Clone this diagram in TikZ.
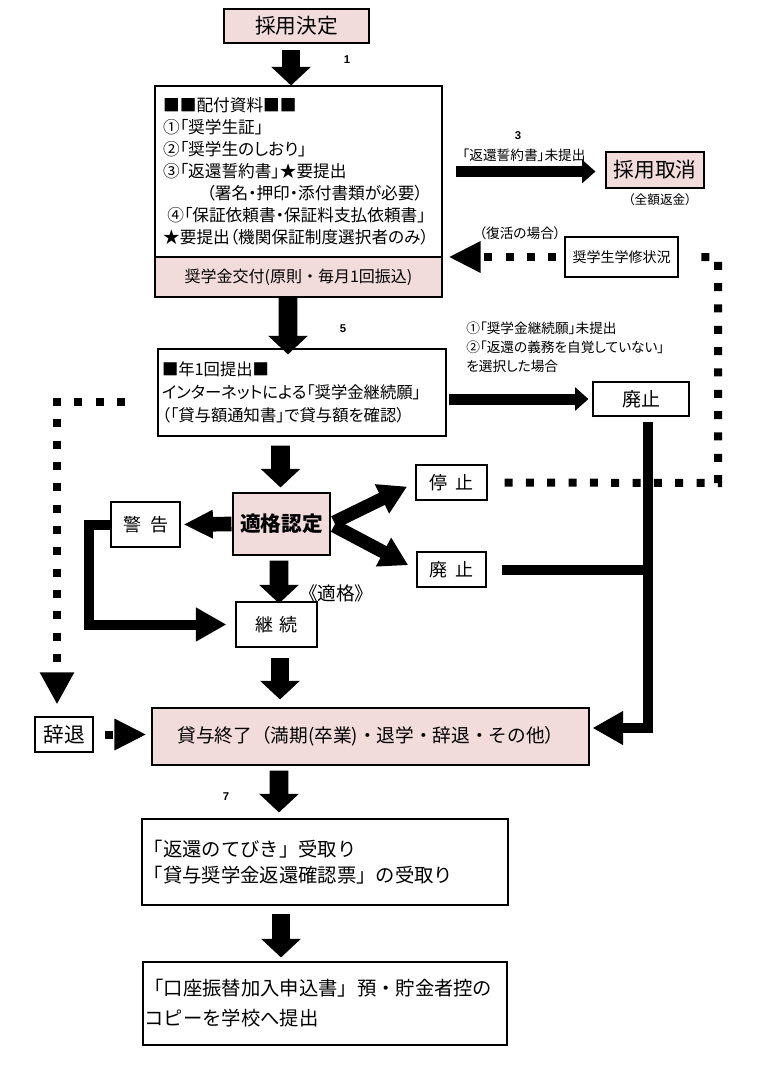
\documentclass[tikz,border=0pt]{standalone}
\usepackage{fontspec}
\setmainfont{Noto Sans CJK JP}
\newfontfamily\pfont[RawFeature=+palt]{Noto Sans CJK JP}
\newfontfamily\numfont{Liberation Sans}
\usetikzlibrary{arrows.meta}
\definecolor{boxpink}{RGB}{242,220,219}
\begin{document}
\begin{tikzpicture}[x=0.75pt,y=-0.75pt,
	box/.style={draw,line width=0.8pt,inner sep=0pt,fill=white},
	pinkbox/.style={box,fill=boxpink},
	fatarrow/.style={line width=14pt,-{Triangle[length=14pt,width=29pt]}},
	thinarrow/.style={line width=8.25pt,-{Triangle[length=10pt,width=17pt]}},
	sidearrow/.style={line width=11pt,-{Triangle[length=22pt,width=20pt]}},
	diagarrow/.style={line width=10pt,-{Triangle[length=21pt,width=23pt]}},
	barline/.style={line width=7.5pt},
	bararrow/.style={barline,-{Triangle[length=23pt,width=24pt]}},
	dotline/.style={line width=6pt,dash pattern=on 6pt off 10pt},
	dotarrow/.style={dotline,-{Triangle[length=24pt,width=22pt]}},
	numlabel/.style={font=\numfont\bfseries\fontsize{8.5}{10}\selectfont,inner sep=0pt},
	note/.style={font=\pfont\fontsize{10.25}{14.25}\selectfont,inner sep=0pt}
]
	\useasboundingbox (0,0) rectangle (770,1068);
	% boxes
	\node[pinkbox,minimum width=108.75pt,minimum height=25.5pt,font=\fontsize{15.5}{18}\selectfont] (adopt) at (296.5,26) {採用決定};
	\node[box,minimum width=215.25pt,minimum height=128.25pt,text width=203pt,align=left,font=\pfont\fontsize{12.5}{16.5}\selectfont] (haifu) at (298.5,171.5) {■■配付資料■■\\①「奨学生証」\\②「奨学生のしおり」\\③「返還誓約書」★要提出\\\hspace*{2.6em}（署名・押印・添付書類が必要）\\\hspace*{.25em}④「保証依頼書・保証料支払依頼書」\\★要提出（機関保証制度選択者のみ）};
	\node[pinkbox,minimum width=215.25pt,minimum height=30pt,font=\fontsize{12}{14}\selectfont] (koufu) at (298.5,277) {奨学金交付(原則・毎月1回振込)};
	\node[pinkbox,minimum width=73.5pt,minimum height=27pt,font=\fontsize{15.5}{18}\selectfont] (cancel) at (655,170) {採用取消};
	\node[box,minimum width=84.75pt,minimum height=30pt,font=\fontsize{10.5}{12}\selectfont] (gakushu) at (621.5,257) {奨学生学修状況};
	\node[box,minimum width=216pt,minimum height=65.25pt,text width=210pt,align=left,font=\pfont\fontsize{12.25}{17.5}\selectfont] (req) at (302,392.5) {■年1回提出■\\インターネットによる「奨学金継続願」\\（「貸与額通知書」で貸与額を確認）};
	\node[box,minimum width=72pt,minimum height=25.5pt,font=\fontsize{14.25}{16}\selectfont] (haishi1) at (641,399) {廃止};
	\node[box,minimum width=53.25pt,minimum height=26.25pt,font=\fontsize{13.5}{16}\selectfont] (teishi) at (451.5,482.5) {停\hspace{.4em}止};
	\node[box,minimum width=51.75pt,minimum height=26.25pt,font=\fontsize{13.5}{16}\selectfont] (haishi2) at (451.5,569.5) {廃\hspace{.4em}止};
	\node[pinkbox,minimum width=72.75pt,minimum height=46.5pt,font=\fontsize{15.5}{18}\selectfont\bfseries] (tekikaku) at (281.5,524) {適格認定};
	\node[box,minimum width=51.75pt,minimum height=33.75pt,font=\fontsize{13.5}{16}\selectfont] (keikoku) at (145.5,524.5) {警\hspace{.5em}告};
	\node[box,minimum width=60.75pt,minimum height=33.75pt,font=\fontsize{13.5}{16}\selectfont] (keizoku) at (276.5,624.5) {継\hspace{.3em}続};
	\node[box,minimum width=43.5pt,minimum height=26.25pt,font=\fontsize{15.5}{18}\selectfont] (jitai) at (64,734.5) {辞退};
	\node[pinkbox,minimum width=327.75pt,minimum height=42.75pt,font=\fontsize{14}{16}\selectfont] (finish) at (370.5,736.5) {貸与終了（満期(卒業)・退学・辞退・その他）};
	\node[box,minimum width=274.5pt,minimum height=64.5pt,text width=272pt,align=left,font=\fontsize{14.5}{20}\selectfont] (tebiki) at (325,862) {「返還のてびき」受取り\\「貸与奨学金返還確認票」の受取り};
	\node[box,minimum width=273pt,minimum height=62.25pt,text width=271pt,align=left,font=\fontsize{14.5}{22.5}\selectfont] (kouza) at (325,1003.5) {「口座振替加入申込書」預・貯金者控の\\コピーを学校へ提出};
	% labels
	\node[numlabel] (n1) at (347,60) {1};
	\node[numlabel] (n3) at (518,136) {3};
	\node[numlabel] (n5) at (343,329) {5};
	\node[numlabel] (n7) at (226,797) {7};
	\node[note] (l3) at (524,155) {「返還誓約書」未提出};
	\node[note,font=\pfont\fontsize{9.5}{11}\selectfont] (zengaku) at (660,200) {（全額返金）};
	\node[note] (fukkatsu) at (520,233) {（復活の場合）};
	\node[note,anchor=west,align=left] (l5) at (466,347) {①「奨学金継続願」未提出\\②「返還の義務を自覚していない」\\を選択した場合};
	\node[note,font=\pfont\fontsize{14}{16}\selectfont] (ltekikaku) at (336,593) {《適格》};
	% connectors
	\coordinate (rturn) at (718,483);
	\coordinate (vturn) at (648,728);
	\coordinate (ldot) at (125,402);
	\coordinate (lturn) at (57,402);
	\draw[fatarrow,shorten <=5pt] ([xshift=-4.1pt]adopt.south) -- ([xshift=-5.6pt]haifu.north);
	\draw[fatarrow,shorten >=-4.5pt] ([xshift=-7.9pt]koufu.south) -- ([xshift=-10.5pt]req.north);
	\draw[fatarrow,shorten <=6.75pt,shorten >=3.75pt] ([xshift=-16.1pt]req.south) -- ([xshift=-.75pt]tekikaku.north);
	\draw[fatarrow,shorten <=3.75pt,shorten >=-1.5pt] ([xshift=-1.9pt]tekikaku.south) -- ([xshift=1.9pt]keizoku.north);
	\draw[fatarrow,shorten <=7.5pt,shorten >=6pt] ([xshift=2.6pt]keizoku.south) -- ([xshift=-67.9pt]finish.north);
	\draw[fatarrow,shorten <=3.75pt,shorten >=4.5pt] ([xshift=-68.6pt]finish.south) -- ([xshift=-34.5pt]tebiki.north);
	\draw[fatarrow,shorten <=6pt,shorten >=3pt] ([xshift=-33pt]tebiki.south) -- ([xshift=-33pt]kouza.north);
	\draw[thinarrow,shorten <=9.75pt,shorten >=7.5pt] (haifu.east) -- (haifu.east -| cancel.west);
	\draw[thinarrow,shorten <=1.5pt,shorten >=3pt] (req.east |- haishi1.west) -- (haishi1.west);
	\draw[dotarrow,shorten <=6pt,shorten >=4.5pt] (gakushu.west) -- (gakushu.west -| haifu.east);
	\draw[dotline,shorten <=12.75pt,shorten >=7.5pt] (teishi.east) -- (rturn) |- (gakushu.east);
	\draw[bararrow,shorten <=3.75pt,shorten >=2.25pt] (haishi1.south -| vturn) -- (vturn) -- (vturn -| finish.east);
	\draw[barline,shorten <=11.25pt,shorten >=-3.75pt] (haishi2.east) -- (haishi2.east -| vturn);
	\draw[sidearrow,shorten <=.75pt,shorten >=2.25pt] (tekikaku.west) -- (keikoku.east);
	\draw[diagarrow,shorten <=3pt,shorten >=7pt] (tekikaku.east) -- (teishi.west);
	\draw[diagarrow,shorten <=3pt,shorten >=7pt] (tekikaku.east) -- (haishi2.west);
	\draw[bararrow,shorten >=6.75pt] (keikoku.west) -- ++(-21,0) |- (keizoku.west);
	\draw[dotarrow,-{Triangle[length=24pt,width=24pt]},shorten >=9pt] (ldot) -- (lturn) -- (lturn |- jitai.north);
	\draw[dotarrow,shorten <=8.25pt,shorten >=3.75pt] (jitai.east) -- (jitai.east -| finish.west);
\end{tikzpicture}
\end{document}
